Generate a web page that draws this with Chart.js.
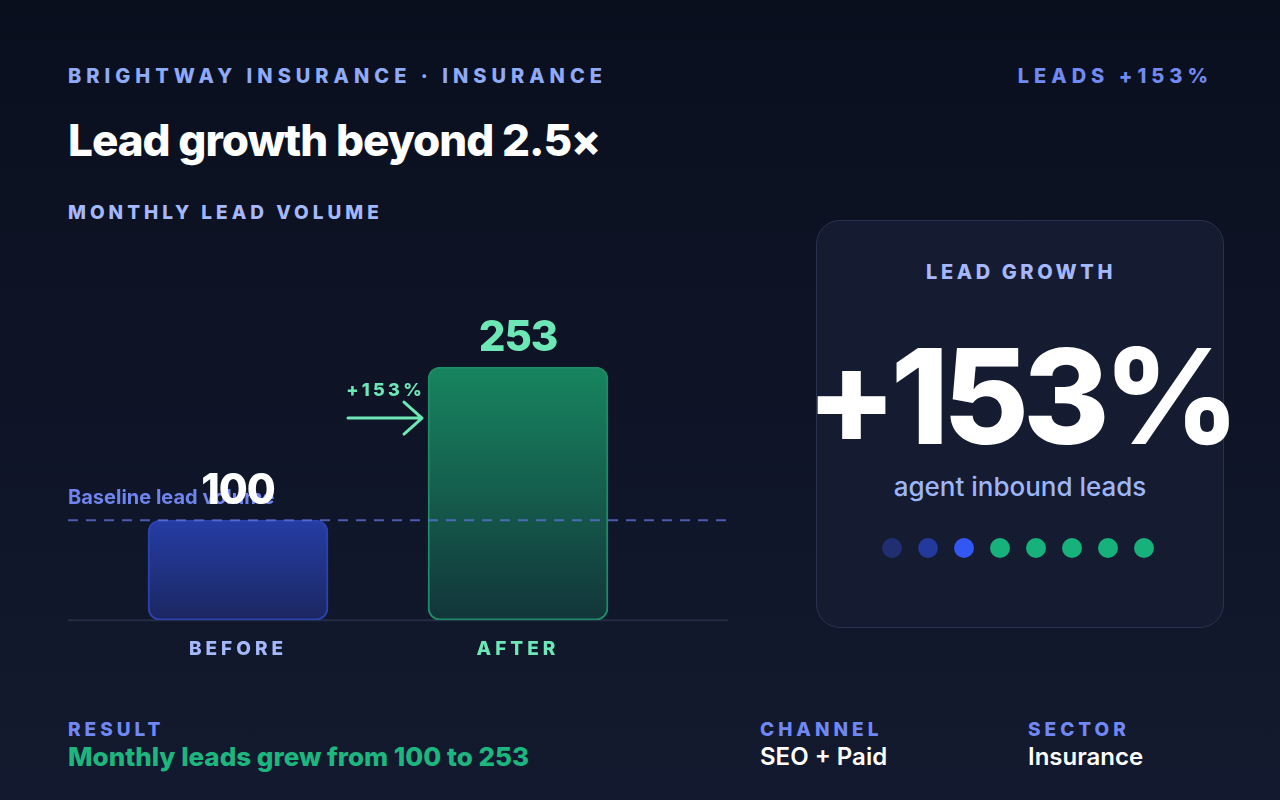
<!DOCTYPE html>
<html>
<head>
<meta charset="utf-8">
<script src="https://cdn.jsdelivr.net/npm/chart.js@4.4.1/dist/chart.umd.min.js"></script>
<style>
html, body { margin: 0; padding: 0; }
body {
  width: 1280px; height: 800px; overflow: hidden; position: relative;
  background: linear-gradient(180deg, #0a0f1e 0%, #131a2f 100%);
  font-family: Inter, 'Noto Sans', sans-serif; color: #fff;
}
.abs { position: absolute; white-space: nowrap; line-height: 1; }
.kicker { font-weight: 800; font-size: 20px; letter-spacing: 5px; }
#chartWrap { position: absolute; left: 68px; top: 260px; width: 660px; height: 420px; }
.card {
  position: absolute; left: 816px; top: 220px; width: 406px; height: 406px;
  border-radius: 24px; background: #151b31; border: 1.5px solid #283150;
}
.dot { position: absolute; width: 20px; height: 20px; border-radius: 50%; top: 538px; }
</style>
</head>
<body>
<div class="abs kicker" style="left:68px;top:66px;color:#8faaf6;">BRIGHTWAY INSURANCE · INSURANCE</div>
<div class="abs kicker" style="right:67px;top:66px;color:#7189f2;">LEADS +153%</div>
<div class="abs" style="left:68px;top:118px;font-size:44px;font-weight:800;letter-spacing:-1px;">Lead growth beyond 2.5×</div>
<div class="abs kicker" style="left:68px;top:203px;font-size:19px;letter-spacing:4px;color:#a5b8fb;">MONTHLY LEAD VOLUME</div>

<div id="chartWrap"><canvas id="myChart"></canvas></div>

<div class="card"></div>
<div class="abs kicker" style="left:817px;width:408px;text-align:center;top:262px;letter-spacing:3.6px;color:#a5b8fb;">LEAD GROWTH</div>
<div class="abs" style="left:800px;width:440px;text-align:center;top:330px;font-size:132px;font-weight:800;letter-spacing:-6px;">+153%</div>
<div class="abs" style="left:816px;width:408px;text-align:center;top:474px;font-size:26px;font-weight:500;color:#9db6f8;">agent inbound leads</div>
<div class="dot" style="left:882px;background:#1f2f72;"></div>
<div class="dot" style="left:918px;background:#24399c;"></div>
<div class="dot" style="left:954px;background:#3357f2;"></div>
<div class="dot" style="left:990px;background:#17b27b;"></div>
<div class="dot" style="left:1026px;background:#17b27b;"></div>
<div class="dot" style="left:1062px;background:#17b27b;"></div>
<div class="dot" style="left:1098px;background:#17b27b;"></div>
<div class="dot" style="left:1134px;background:#17b27b;"></div>

<div class="abs kicker" style="left:68px;top:720px;font-size:19px;letter-spacing:4px;color:#7088f4;">RESULT</div>
<div class="abs" style="left:68px;top:744px;font-size:26px;font-weight:800;color:#1db67e;">Monthly leads grew from 100 to 253</div>
<div class="abs kicker" style="left:760px;top:720px;font-size:19px;letter-spacing:4px;color:#7088f4;">CHANNEL</div>
<div class="abs" style="left:760px;top:745px;font-size:24px;font-weight:600;">SEO + Paid</div>
<div class="abs kicker" style="left:1028px;top:720px;font-size:19px;letter-spacing:4px;color:#7088f4;">SECTOR</div>
<div class="abs" style="left:1028px;top:745px;font-size:24px;font-weight:600;">Insurance</div>

<script>
var categories = ['BEFORE', 'AFTER'];
var leadValues = [100, 253];
var baselineValue = 100;
var growthLabel = '+153%';
var tickColors = ['#a5b8fb', '#6ee7b7'];
var valueColors = ['#ffffff', '#6ee7b7'];

var ctx = document.getElementById('myChart').getContext('2d');

function barGradient(context) {
  var chart = context.chart;
  if (!chart.chartArea || !chart.scales.y) return 'rgba(0,0,0,0)';
  var y = chart.scales.y;
  var top = y.getPixelForValue(context.raw);
  var bottom = y.getPixelForValue(0);
  var g = chart.ctx.createLinearGradient(0, top, 0, bottom);
  if (context.dataIndex === 0) {
    g.addColorStop(0, '#253da4');
    g.addColorStop(1, '#1b2762');
  } else {
    g.addColorStop(0, '#17855f');
    g.addColorStop(1, '#12353a');
  }
  return g;
}

var overlayPlugin = {
  id: 'overlay',
  beforeDraw: function (chart) {
    chart.ctx.letterSpacing = '4px';
  },
  beforeDatasetsDraw: function (chart) {
    var c = chart.ctx;
    var y0 = chart.scales.y.getPixelForValue(0);
    c.save();
    c.strokeStyle = '#242c45';
    c.lineWidth = 2;
    c.beginPath();
    c.moveTo(0, y0);
    c.lineTo(chart.width, y0);
    c.stroke();
    c.restore();
  },
  afterDatasetsDraw: function (chart) {
    var c = chart.ctx;
    var yScale = chart.scales.y;
    var bars = chart.getDatasetMeta(0).data;
    var yb = yScale.getPixelForValue(baselineValue);
    c.save();

    // dashed baseline
    c.strokeStyle = 'rgba(95,115,220,0.75)';
    c.lineWidth = 2;
    c.setLineDash([10, 8]);
    c.beginPath();
    c.moveTo(0, yb);
    c.lineTo(chart.width, yb);
    c.stroke();
    c.setLineDash([]);

    // baseline label
    c.letterSpacing = '0px';
    c.font = '700 20px Inter';
    c.fillStyle = '#6f84ee';
    c.textAlign = 'left';
    c.textBaseline = 'alphabetic';
    c.fillText('Baseline lead volume', 0, yb - 16);

    // value labels
    c.font = '800 42px Inter';
    c.letterSpacing = '-1px';
    c.textAlign = 'center';
    bars.forEach(function (bar, i) {
      c.fillStyle = valueColors[i];
      c.fillText(String(leadValues[i]), bar.x, bar.y - 16);
    });

    // growth annotation + arrow
    var after = bars[1];
    var right = after.x - after.width / 2 - 6;
    c.font = '800 18px Inter';
    c.letterSpacing = '3.3px';
    c.textAlign = 'right';
    c.fillStyle = '#6ee7b7';
    c.fillText(growthLabel, right + 3, after.y + 29);

    var ay = after.y + 51;
    c.strokeStyle = '#6ee7b7';
    c.lineWidth = 3;
    c.lineCap = 'round';
    c.lineJoin = 'round';
    c.beginPath();
    c.moveTo(right - 74, ay);
    c.lineTo(right, ay);
    c.moveTo(right - 18, ay - 16);
    c.lineTo(right, ay);
    c.lineTo(right - 18, ay + 16);
    c.stroke();
    c.restore();
  }
};

var myChart = new Chart(ctx, {
  type: 'bar',
  data: {
    labels: categories,
    datasets: [{
      label: 'Monthly lead volume',
      data: leadValues,
      backgroundColor: barGradient,
      borderColor: ['#2b41b0', '#1e8b64'],
      borderWidth: 2,
      borderRadius: 12,
      borderSkipped: false,
      barThickness: 180
    }]
  },
  options: {
    responsive: true,
    maintainAspectRatio: false,
    animation: false,
    layout: { padding: { left: 30, right: 70, top: 20, bottom: 9 } },
    plugins: {
      legend: { display: false },
      tooltip: { enabled: false }
    },
    scales: {
      x: {
        grid: { display: false },
        border: { display: false },
        ticks: {
          color: function (context) { return tickColors[context.index]; },
          padding: 10,
          font: { family: 'Inter', size: 19, weight: '800' }
        }
      },
      y: {
        display: false,
        min: 0,
        max: 340
      }
    }
  },
  plugins: [overlayPlugin]
});
</script>
</body>
</html>
